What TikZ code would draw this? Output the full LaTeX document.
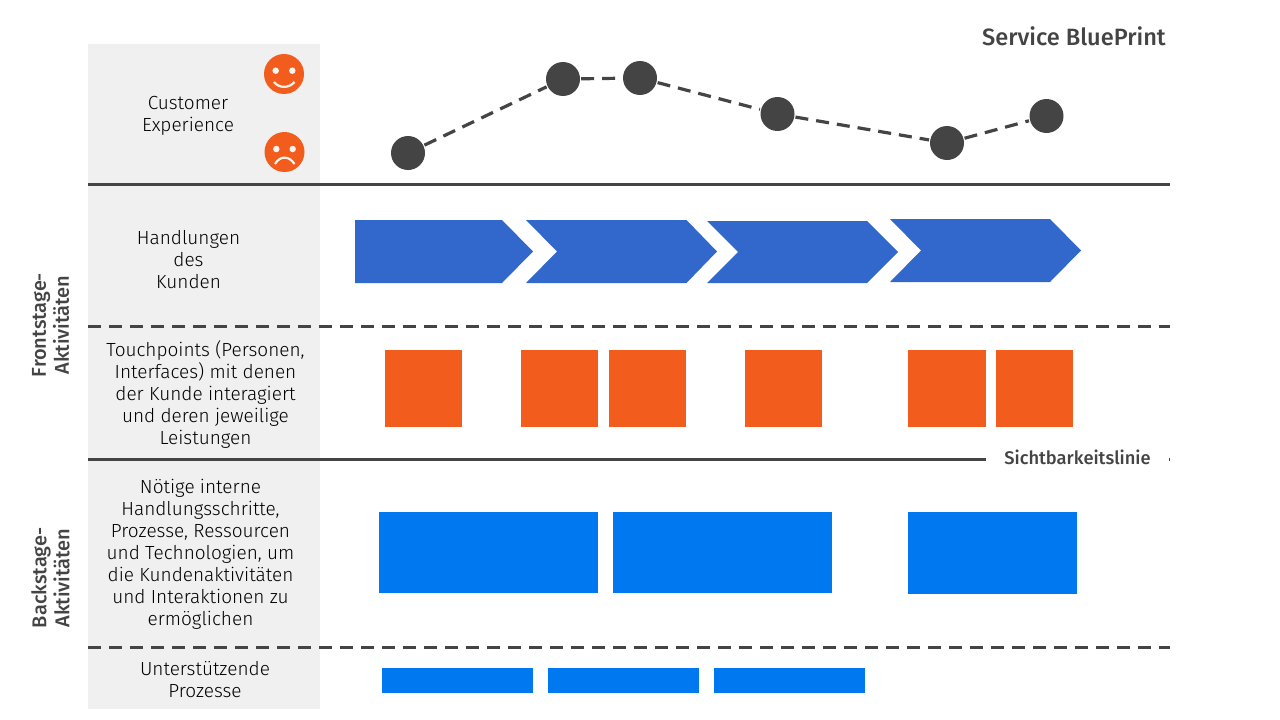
\documentclass[tikz,border=0pt]{standalone}
\usepackage{fontspec}
\setmainfont{Fira Sans}[UprightFont={* Light},BoldFont={* Medium}]
\definecolor{dark}{HTML}{444444}
\definecolor{orangeb}{HTML}{F25C1C}
\definecolor{chev}{HTML}{3267CC}
\definecolor{blueb}{HTML}{0078EF}
\definecolor{panel}{HTML}{F0F0F0}
\tikzset{
  lab/.style={align=center,inner sep=0pt,text=black,font=\fontsize{19}{22}\selectfont},
  side/.style={align=center,inner sep=0pt,text=dark,rotate=90,font=\fontsize{20}{23}\selectfont\bfseries},
  solidline/.style={draw=dark,line width=3pt},
  dashline/.style={draw=dark,line width=3pt,dash pattern=on 12.5pt off 8.5pt},
  curve/.style={draw=dark,line width=3.2pt,dash pattern=on 13pt off 8pt,shorten >=1pt,shorten <=1pt},
  dot/.style={circle,fill=dark,minimum size=34pt,inner sep=0pt},
  face/.style={circle,fill=orangeb,minimum size=40pt,inner sep=0pt},
  eye/.style={circle,fill=white!92!orangeb,minimum size=6.5pt,inner sep=0pt},
  mouth/.style={draw=white!92!orangeb,line width=2.2pt},
  sq/.style={fill=orangeb},
  bb/.style={fill=blueb},
  ch/.style={fill=chev}
}
\begin{document}
\begin{tikzpicture}[x=1pt,y=-1pt]
\useasboundingbox (0,0) rectangle (1280,720);
\fill[panel] (88,44) rectangle (320,709);
% lines
\draw[solidline] (88,184) -- (1170,184);
\draw[dashline] (88,326) -- (1170,326);
\draw[solidline] (88,459.5) -- (1170,459.5);
\draw[dashline] (88,647) -- (1170,647);
% title and labels
\node[inner sep=0pt,text=dark,anchor=east,font=\fontsize{23.6}{26}\selectfont\bfseries] (title) at (1166,36.5) {Service BluePrint};
\node[fill=white,inner sep=0pt,minimum width=183pt,minimum height=20pt,text=dark,font=\fontsize{18.3}{20}\selectfont\bfseries] (vis) at (1077.5,457.5) {Sichtbarkeitslinie};
\node[lab] (cx) at (188,116) {Customer\\Experience};
\node[lab] (hk) at (188.5,260) {Handlungen\\des\\Kunden};
\node[lab] (tp) at (205.5,394) {Touchpoints (Personen,\\Interfaces) mit denen\\der Kunde interagiert\\und deren jeweilige\\Leistungen};
\node[lab] (ih) at (200.5,554) {Nötige interne\\Handlungsschritte,\\Prozesse, Ressourcen\\und Technologien, um\\die Kundenaktivitäten\\und Interaktionen zu\\ermöglichen};
\node[lab] (up) at (205,680) {Unterstützende\\Prozesse};
\node[side] (fa) at (50.5,325) {Frontstage-\\Aktivitäten};
\node[side] (ba) at (50.5,578) {Backstage-\\Aktivitäten};
% faces
\node[face] (happy) at (284,74) {};
\node[eye] (he1) at (275.7,70.7) {};
\node[eye] (he2) at (292.3,70.7) {};
\draw[mouth] (274,82) .. controls (279,88.5) and (289,88.5) .. (294.5,82);
\node[face] (sad) at (284.5,152) {};
\node[eye] (se1) at (276.3,149) {};
\node[eye] (se2) at (292.7,149) {};
\draw[mouth] (275,164) .. controls (280,155.5) and (289,155.5) .. (294.5,164);
% experience curve
\node[dot] (d1) at (408,153) {};
\node[dot] (d2) at (563,79) {};
\node[dot] (d3) at (640,78) {};
\node[dot] (d4) at (777.5,114) {};
\node[dot] (d5) at (947,143) {};
\node[dot] (d6) at (1046.5,116) {};
\draw[curve] (d1) -- (d2);
\draw[curve] (d2) -- (d3);
\draw[curve] (d3) -- (d4);
\draw[curve] (d4) -- (d5);
\draw[curve] (d5) -- (d6);
% chevrons
\fill[ch] (355,220) -- (502,220) -- (533,251.5) -- (502,283) -- (355,283) -- cycle;
\fill[ch] (526,220) -- (686.5,220) -- (717,251.5) -- (686.5,283) -- (526,283) -- (557,251.5) -- cycle;
\fill[ch] (707,221) -- (867,221) -- (898,252) -- (867,283) -- (707,283) -- (738,252) -- cycle;
\fill[ch] (890,219) -- (1050,219) -- (1081,250.5) -- (1050,282) -- (890,282) -- (921,250.5) -- cycle;
% touchpoints
\fill[sq] (385,350) rectangle (462,427);
\fill[sq] (521,350) rectangle (598,427);
\fill[sq] (609,350) rectangle (686,427);
\fill[sq] (745,350) rectangle (822,427);
\fill[sq] (908,350) rectangle (986,427);
\fill[sq] (996,350) rectangle (1073,427);
% backstage
\fill[bb] (379,512) rectangle (598,593);
\fill[bb] (613,512) rectangle (832,593);
\fill[bb] (908,512) rectangle (1077,594);
\fill[bb] (382,668) rectangle (533,693);
\fill[bb] (548,668) rectangle (699,693);
\fill[bb] (714,668) rectangle (865,693);
\end{tikzpicture}
\end{document}
